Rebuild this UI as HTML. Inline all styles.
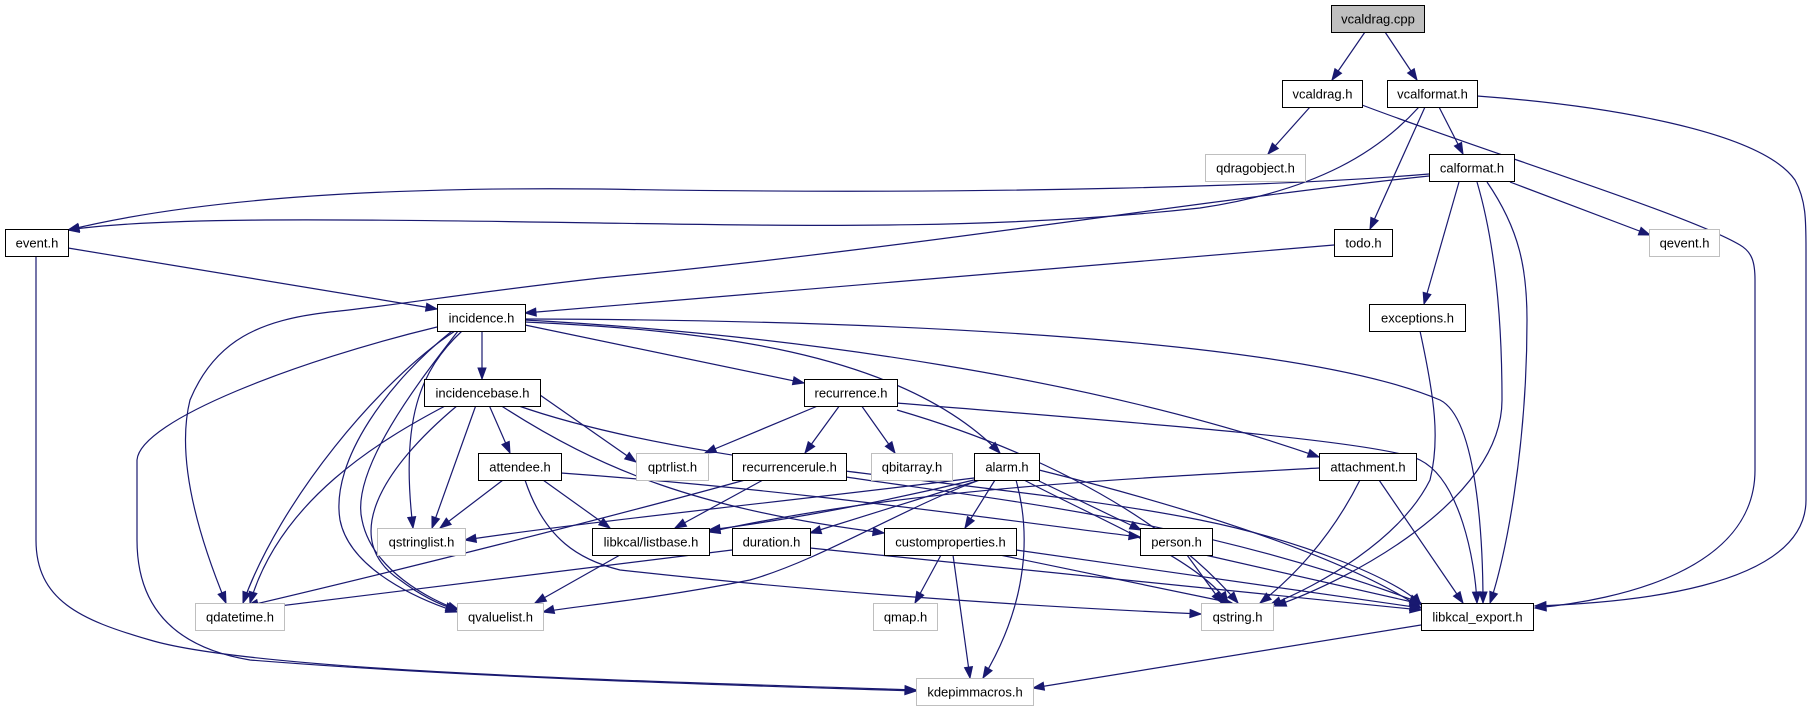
<!DOCTYPE html>
<html><head><meta charset="utf-8"><style>
html,body{margin:0;padding:0;background:#fff;width:1812px;height:709px;overflow:hidden}
svg text{font-family:"Liberation Sans",sans-serif;font-size:13px;fill:#000}
</style></head><body>
<svg id="g" width="1812" height="709" xmlns="http://www.w3.org/2000/svg"></svg>
<script>
var svg=document.getElementById('g');var NS='http://www.w3.org/2000/svg';
function el(n,a){var e=document.createElementNS(NS,n);for(var k in a)e.setAttribute(k,a[k]);svg.appendChild(e);return e;}
var edges=[
"M1365,32 L1332,80","M1385,32 L1417,80","M1310,107 L1268,154",
"M1362,105 C1480,150 1690,215 1740,245 C1752,252 1755,262 1755,280 L1755,470 C1755,570 1620,600 1535,608",
"M1477,96 C1600,105 1760,130 1795,180 C1806,200 1806,220 1806,250 L1806,500 C1806,590 1620,603 1535,606",
"M1439,107 L1463,154","M1425,107 L1370,229",
"M1429,174 C1300,185 1000,196 600,189 C300,186 150,210 68,230",
"M1419,107 C1380,150 1320,190 1200,208 C1000,230 800,226 600,223 C300,218 150,218 68,230",
"M1429,176 C1200,200 900,250 600,278 C450,295 400,305 330,312 C260,320 215,340 190,400 C175,460 200,540 226,603",
"M68,248 L437,309",
"M36,256 L36,540 C36,600 80,620 150,640 C250,670 600,680 916,690",
"M1334,245 L525,313",
"M437,327 C300,360 140,420 137,460 L137,540 C137,620 190,650 250,660 C500,680 800,687 916,691",
"M482,331 L482,379","M525,325 L804,383",
"M525,322 C700,330 900,350 1000,453",
"M525,320 C800,335 1100,380 1319,457",
"M525,319 C900,320 1300,340 1440,400 C1480,420 1483,560 1483,603",
"M455,331 C380,380 280,500 243,603",
"M462,331 C420,370 400,420 413,528",
"M452,331 C390,380 330,460 340,520 C350,570 420,600 457,612",
"M458,331 C420,380 350,470 362,520 C372,570 430,600 459,610",
"M540,395 L636,462","M476,405 L432,528",
"M447,405 C380,440 280,500 250,603",
"M458,405 C380,470 340,540 400,580 C420,595 440,605 457,610",
"M489,405 L510,453",
"M500,405 C600,470 700,510 884,533",
"M516,405 C700,470 1000,480 1200,520 C1300,540 1400,580 1421,605",
"M503,480 L440,528","M543,480 L610,528",
"M561,473 C800,490 1000,520 1140,537",
"M525,480 C545,540 580,560 620,570 C800,590 1000,605 1201,614",
"M820,405 L705,453","M840,405 L805,453","M861,405 L895,453",
"M897,410 C1000,440 1150,500 1238,603",
"M897,403 C1100,420 1380,440 1420,460 C1460,480 1475,560 1477,603",
"M745,480 C600,520 400,570 247,606",
"M763,480 L675,528",
"M846,477 C1000,500 1200,520 1421,603",
"M974,478 C800,500 600,520 465,540",
"M974,480 C850,510 750,525 709,530",
"M980,480 L810,533",
"M977,481 C900,510 820,560 750,580 C650,600 560,608 543,612",
"M995,480 L965,528",
"M1016,480 C1030,530 1030,600 983,678",
"M1039,481 L1141,530",
"M1024,480 C1100,520 1200,560 1228,603",
"M1039,470 C1200,510 1350,560 1421,608",
"M1360,480 C1330,540 1290,580 1260,603",
"M1379,480 L1463,603",
"M1319,468 C1100,480 900,490 709,532",
"M620,555 L535,603","M732,550 L247,610","M810,548 L1421,610",
"M941,555 L915,603","M953,555 L970,678","M1000,555 L1232,603","M1016,550 L1421,608",
"M1187,555 L1222,603","M1205,555 L1421,604",
"M1421,625 L1033,688",
"M1459,182 L1424,304","M1510,182 L1650,235",
"M1477,182 C1500,260 1502,350 1502,400 C1502,500 1350,580 1275,606",
"M1487,182 C1520,230 1527,270 1527,320 C1527,450 1505,560 1490,603",
"M1420,331 C1435,400 1440,440 1430,480 C1400,540 1320,585 1270,605"
];
edges.forEach(function(d){
  el('path',{d:d,fill:'none',stroke:'#191970','stroke-width':1.2});
  var n=d.match(/-?[\d.]+/g).map(Number);var L=n.length;
  var x1=n[L-2],y1=n[L-1],x0=n[L-4],y0=n[L-3];
  var dx=x1-x0,dy=y1-y0,m=Math.sqrt(dx*dx+dy*dy)||1;dx/=m;dy/=m;
  var bx=x1-dx*11,by=y1-dy*11,px=-dy*4,py=dx*4;
  el('polygon',{points:x1+','+y1+' '+(bx+px)+','+(by+py)+' '+(bx-px)+','+(by-py),fill:'#191970',stroke:'#191970'});
});
var nodes=[
["vcaldrag.cpp",1331,5,93,2],["vcaldrag.h",1282,80,80,1],["vcalformat.h",1387,80,90,1],
["qdragobject.h",1205,154,100,0],["calformat.h",1429,154,85,1],["todo.h",1334,229,58,1],
["qevent.h",1649,229,70,0],["exceptions.h",1369,304,96,1],["event.h",5,229,63,1],
["incidence.h",437,304,88,1],["incidencebase.h",424,379,116,1],["attendee.h",478,453,83,1],
["qstringlist.h",377,528,88,0],["qdatetime.h",195,603,89,0],["qvaluelist.h",457,603,86,0],
["recurrence.h",804,379,93,1],["qptrlist.h",636,453,72,0],["recurrencerule.h",732,453,114,1],
["qbitarray.h",871,453,81,0],["alarm.h",974,453,65,1],["libkcal/listbase.h",592,528,117,1],
["duration.h",732,528,78,1],["customproperties.h",884,528,132,1],["person.h",1140,528,72,1],
["qmap.h",873,603,64,0],["kdepimmacros.h",916,678,117,0],["attachment.h",1319,453,97,1],
["qstring.h",1201,603,72,0],["libkcal_export.h",1421,603,112,1]
];
nodes.forEach(function(a){
  var fill=a[4]==2?'#bfbfbf':'#fff',st=a[4]==0?'#bfbfbf':'#000';
  el('rect',{x:a[1]+0.5,y:a[2]+0.5,width:a[3],height:27,fill:fill,stroke:st,'stroke-width':1});
  var t=el('text',{x:a[1]+a[3]/2+0.5,y:a[2]+18.5,'text-anchor':'middle'});t.textContent=a[0];
});
</script>
</body></html>
